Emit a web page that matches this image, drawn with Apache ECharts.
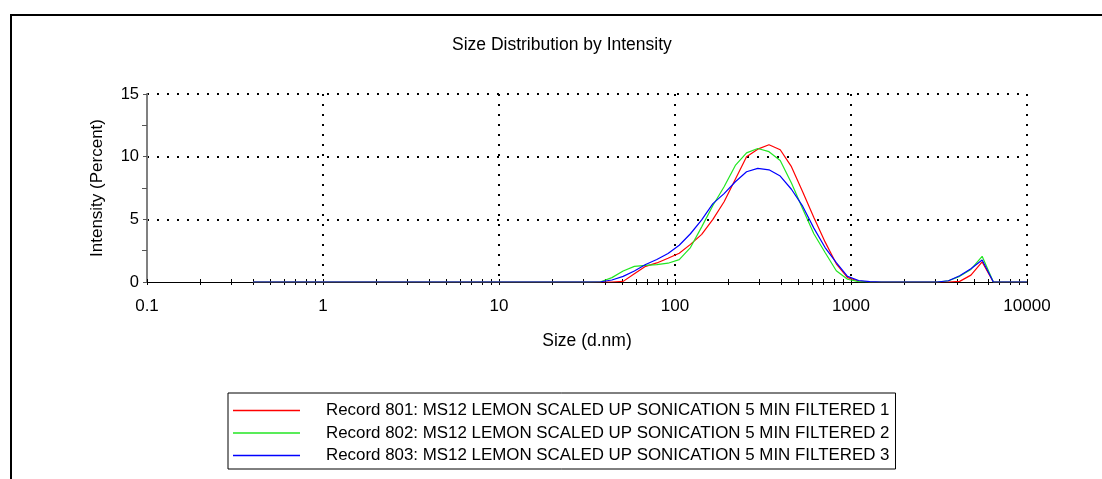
<!DOCTYPE html>
<html>
<head>
<meta charset="utf-8">
<script src="https://cdn.jsdelivr.net/npm/echarts@6/dist/echarts.min.js"></script>
<style>
html,body{margin:0;padding:0;background:#fff;}
#chart{width:1102px;height:479px;}
</style>
</head>
<body>
<div id="chart"></div>
<script>
// Size bins (d.nm)
const sizes = [0.4,0.4632,0.5365,0.6213,0.7195,0.8332,0.9649,1.117,1.294,1.499,1.736,2.010,2.328,2.696,3.122,3.615,4.187,4.849,5.615,6.503,7.531,8.721,10.10,11.70,13.54,15.69,18.17,21.04,24.36,28.21,32.67,37.84,43.82,50.75,58.77,68.06,78.82,91.28,105.7,122.4,141.8,164.2,190.1,220.2,255.0,295.3,342.0,396.1,458.7,531.2,615.1,712.4,825.0,955.4,1106,1281,1484,1718,1990,2305,2669,3091,3580,4145,4801,5560,6439,7456,8635,10000];

const record801 = [0,0,0,0,0,0,0,0,0,0,0,0,0,0,0,0,0,0,0,0,0,0,0,0,0,0,0,0,0,0,0,
  0,0,0.05,0.65,1.25,1.52,1.9,2.3,3.0,3.8,5.0,6.4,8.2,10.0,10.6,10.95,10.55,9.2,7.2,5.15,3.2,1.45,0.35,0.08,0,
  0,0,0,0,0,0,0,0.05,0.55,1.6,0,0,0,0];
const record802 = [0,0,0,0,0,0,0,0,0,0,0,0,0,0,0,0,0,0,0,0,0,0,0,0,0,0,0,0,0,0,0,
  0.02,0.35,0.88,1.25,1.32,1.38,1.5,1.78,2.75,4.4,6.1,7.6,9.3,10.3,10.65,10.4,9.7,7.9,5.85,3.85,2.35,0.9,0.22,0.03,0,
  0,0,0,0,0,0,0.1,0.45,1.0,2.05,0,0,0,0];
const record803 = [0,0,0,0,0,0,0,0,0,0,0,0,0,0,0,0,0,0,0,0,0,0,0,0,0,0,0,0,0,0,0,
  0.02,0.16,0.45,0.88,1.4,1.8,2.27,2.93,3.85,4.95,6.25,7.05,8.0,8.8,9.07,8.95,8.45,7.4,6.05,4.3,2.75,1.55,0.45,0.12,0.03,
  0,0,0,0,0,0,0.1,0.5,1.05,1.75,0,0,0,0];

const seriesNames = [
  'Record 801: MS12 LEMON SCALED UP SONICATION 5 MIN FILTERED 1',
  'Record 802: MS12 LEMON SCALED UP SONICATION 5 MIN FILTERED 2',
  'Record 803: MS12 LEMON SCALED UP SONICATION 5 MIN FILTERED 3'
];
const seriesColors = ['#ff0000', '#22e622', '#0000ff'];
const seriesValues = [record801, record802, record803];

const titleText = 'Size Distribution by Intensity';
const xName = 'Size (d.nm)';
const yName = 'Intensity (Percent)';
const xMin = 0.1, xMax = 10000;
const yMin = 0, yMax = 15, yInterval = 5;

// log minor tick positions (1..9 per decade)
const xTickValues = [];
for (let d = xMin; d < xMax * 0.99; d *= 10) {
  for (let k = 1; k <= 9; k++) xTickValues.push(+(d * k).toPrecision(6));
}
xTickValues.push(xMax);

const FONT = "'Liberation Sans', Arial, sans-serif";
const LEGEND_ICON = 'path://M0,0 L67,0 L67,1.6 L0,1.6 Z';
const chart = echarts.init(document.getElementById('chart'));

const series = seriesValues.map((vals, i) => ({
  name: seriesNames[i],
  type: 'line',
  xAxisIndex: 0,
  yAxisIndex: 0,
  data: sizes.map((s, j) => [s, vals[j]]),
  symbol: 'none',
  smooth: false,
  lineStyle: { color: seriesColors[i], width: 1.2 },
  itemStyle: { color: seriesColors[i] },
  emphasis: { disabled: true },
  animation: false
}));

const baseX = { type: 'log', logBase: 10, min: xMin, max: xMax, gridIndex: 0 };
const baseY = { type: 'value', min: yMin, max: yMax, interval: yInterval, gridIndex: 0 };

chart.setOption({
  animation: false,
  backgroundColor: '#ffffff',
  title: {
    text: titleText,
    left: 452,
    top: 36,
    padding: 0,
    textStyle: { fontFamily: FONT, fontSize: 17.5, fontWeight: 'normal', color: '#000' }
  },
  grid: { left: 147, right: 75, top: 94, bottom: 197, containLabel: false },
  xAxis: [
    Object.assign({}, baseX, {
      name: xName,
      nameLocation: 'middle',
      nameGap: 50,
      nameTextStyle: { fontFamily: FONT, fontSize: 17.5, color: '#000' },
      axisLine: { show: true, lineStyle: { color: '#000', width: 1 } },
      axisTick: { show: false },
      axisLabel: { fontFamily: FONT, fontSize: 17, color: '#000', margin: 16, formatter: v => String(v) },
      splitLine: { show: true, showMinLine: false, lineStyle: { color: '#000', width: 2, type: [2, 8] } },
      minorTick: { show: false },
      minorSplitLine: { show: false }
    }),
    Object.assign({}, baseX, {
      position: 'bottom',
      axisLine: { show: false },
      axisLabel: { show: false },
      splitLine: { show: false },
      axisTick: { show: true, inside: false, length: 3, customValues: xTickValues, lineStyle: { color: '#000', width: 1 } }
    }),
    Object.assign({}, baseX, {
      position: 'bottom',
      axisLine: { show: false },
      axisLabel: { show: false },
      splitLine: { show: false },
      axisTick: { show: true, inside: true, length: 3, customValues: xTickValues, lineStyle: { color: '#000', width: 1 } }
    })
  ],
  yAxis: [
    Object.assign({}, baseY, {
      name: yName,
      nameLocation: 'middle',
      nameGap: 41,
      nameRotate: 90,
      nameTextStyle: { fontFamily: FONT, fontSize: 17, color: '#000' },
      axisLine: { show: true, lineStyle: { color: '#808080', width: 2 } },
      axisTick: { show: true, inside: false, length: 4, lineStyle: { color: '#555', width: 1 } },
      minorTick: { show: true, splitNumber: 2, length: 4, lineStyle: { color: '#555', width: 1 } },
      axisLabel: { fontFamily: FONT, fontSize: 16.5, color: '#000', margin: 8 },
      splitLine: { show: true, showMinLine: false, lineStyle: { color: '#000', width: 2, type: [2, 8] } }
    }),
    Object.assign({}, baseY, {
      position: 'left',
      offset: 0,
      axisLine: { show: false },
      axisLabel: { show: false },
      splitLine: { show: false },
      axisTick: { show: false },
      minorTick: { show: true, splitNumber: 2, length: 5, lineStyle: { color: '#555', width: 1 } }
    })
  ],
  legend: {
    show: true,
    orient: 'vertical',
    left: 228,
    top: 393,
    padding: [9, 6, 5, 5],
    itemGap: 5.5,
    itemWidth: 67,
    itemHeight: 14,
    borderColor: '#000',
    borderWidth: 1,
    selectedMode: false,
    data: seriesNames.map((n, i) => ({
      name: n,
      icon: LEGEND_ICON,
      itemStyle: { color: seriesColors[i], borderWidth: 0, opacity: 1 }
    })),
    textStyle: { fontFamily: FONT, fontSize: 16.9, color: '#000', lineHeight: 16, padding: [0, 0, 0, 21] }
  },
  graphic: [
    { type: 'line', shape: { x1: 11, y1: 15, x2: 11, y2: 479 }, style: { stroke: '#000', lineWidth: 2 }, silent: true },
    { type: 'line', shape: { x1: 10, y1: 15, x2: 1102, y2: 15 }, style: { stroke: '#000', lineWidth: 2 }, silent: true }
  ],
  series: series
});
</script>
</body>
</html>
